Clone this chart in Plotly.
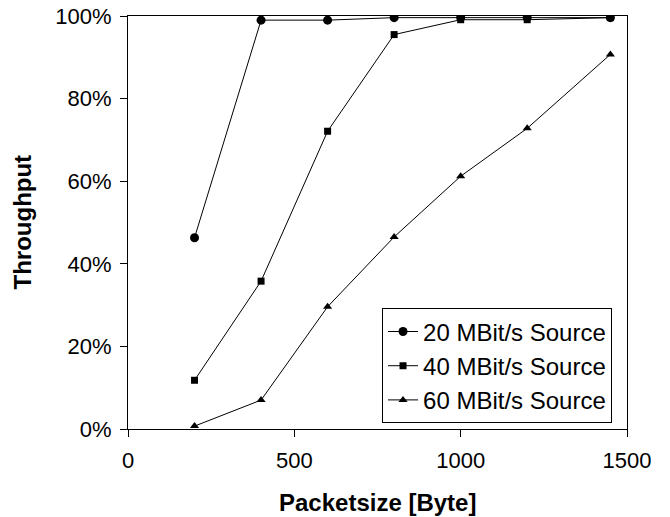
import plotly.graph_objects as go

packetsize = [200, 400, 600, 800, 1000, 1200, 1450]
src20 = [46.3, 99.0, 99.0, 99.6, 99.6, 99.6, 99.6]
src40 = [11.8, 35.8, 72.1, 95.5, 99.1, 99.1, 99.6]
src60 = [0.7, 7.0, 29.6, 46.5, 61.2, 72.8, 90.7]
names = ["20 MBit/s Source", "40 MBit/s Source", "60 MBit/s Source"]
symbols = ["circle", "square", "triangle-up"]
sizes = [9, 7, 8]

FONT = "Liberation Sans, Arial, Helvetica, sans-serif"

fig = go.Figure()
for name, vals, sym, sz in zip(names, [src20, src40, src60], symbols, sizes):
    fig.add_trace(go.Scatter(
        x=packetsize, y=[v / 100 for v in vals], name=name,
        mode="lines+markers",
        line=dict(color="black", width=1),
        marker=dict(symbol=sym, size=sz, color="black"),
    ))

fig.update_layout(
    width=670, height=517,
    margin=dict(l=128, r=43, t=16, b=88),
    paper_bgcolor="white", plot_bgcolor="white",
    font=dict(family=FONT, size=22, color="black"),
    showlegend=True,
    legend=dict(
        x=0.97, y=0.292, xanchor="right", yanchor="top",
        bordercolor="black", borderwidth=1, bgcolor="white",
        font=dict(size=24), tracegroupgap=0, itemwidth=30,
    ),
    xaxis=dict(
        range=[0, 1500], tickvals=[0, 500, 1000, 1500],
        showgrid=False, zeroline=False, automargin=False,
        showline=True, linecolor="black", linewidth=1, mirror=True,
        ticks="outside", ticklen=7, tickcolor="black", ticklabelstandoff=5,
    ),
    yaxis=dict(
        range=[0, 1], tickvals=[0, 0.2, 0.4, 0.6, 0.8, 1.0], tickformat=".0%",
        showgrid=False, zeroline=False, automargin=False,
        showline=True, linecolor="black", linewidth=1, mirror=True,
        ticks="outside", ticklen=7, tickcolor="black", ticklabelstandoff=4,
    ),
    annotations=[
        dict(text="<b>Packetsize [Byte]</b>", xref="paper", yref="paper",
             x=0.5, y=-0.179, xanchor="center", yanchor="middle",
             showarrow=False, font=dict(size=24)),
        dict(text="<b>Throughput</b>", xref="paper", yref="paper",
             x=-0.2124, y=0.5, xanchor="center", yanchor="middle",
             textangle=-90, showarrow=False, font=dict(size=24)),
    ],
)

fig.write_html("out.html")
